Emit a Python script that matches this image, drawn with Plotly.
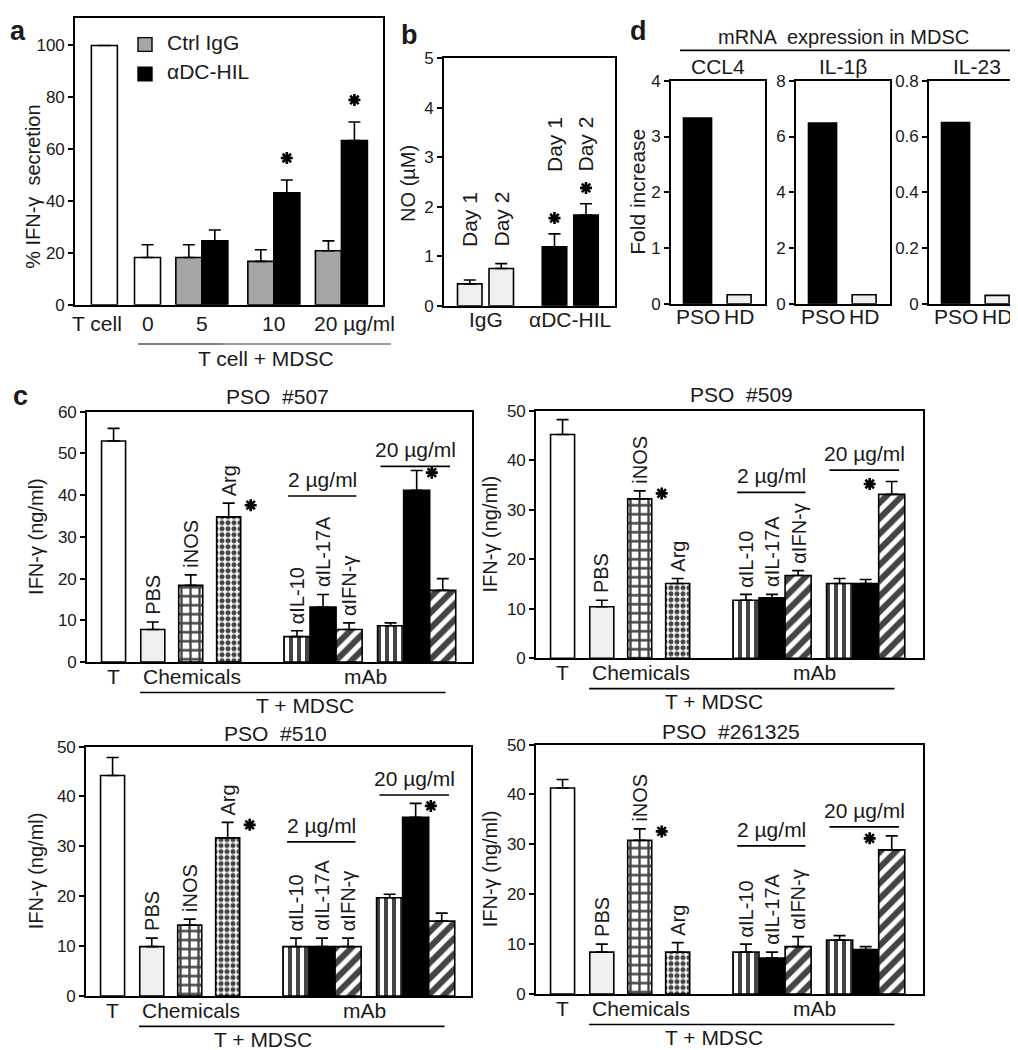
import plotly.graph_objects as go

W, H = 1018, 1050
FONT = "Arial, Liberation Sans, Helvetica, sans-serif"
TXT = "#1a1a1a"
LBL = 21
TCK = 17

# ---------------- data ----------------
# panel a : % IFN-gamma secretion
a_single_labels = ["T cell", "0"]
a_single_vals = [100, 18.2]
a_single_err = [0, 4.9]
a_dose_labels = ["5", "10", "20 µg/ml"]
a_ctrl_vals = [18.2, 16.7, 20.8]
a_ctrl_err = [4.9, 4.5, 3.8]
a_dchil_vals = [24.6, 43.2, 63.3]
a_dchil_err = [4.2, 4.9, 7.2]
a_dchil_sig = [False, True, True]

# panel b : NO (uM)
b_groups = ["IgG", "αDC-HIL"]
b_day1_vals = [0.44, 1.19]
b_day1_err = [0.08, 0.26]
b_day2_vals = [0.75, 1.83]
b_day2_err = [0.10, 0.23]
b_sig = [False, True]

# panel d : mRNA fold increase
d_genes = ["CCL4", "IL-1β", "IL-23"]
d_groups = ["PSO", "HD"]
d_pso = [3.33, 6.48, 0.65]
d_hd = [0.16, 0.32, 0.03]
d_ymax = [4, 8, 0.8]
d_dtick = [1, 2, 0.2]

# panel c : IFN-gamma (ng/ml)
c_patients = ["PSO  #507", "PSO  #509", "PSO  #510", "PSO  #261325"]
c_labels = ["T", "PBS", "iNOS", "Arg", "αIL-10", "αIL-17A", "αIFN-γ", "αIL-10", "αIL-17A", "αIFN-γ"]
c507_vals = [53.0, 7.8, 18.4, 34.8, 6.1, 13.2, 7.8, 8.7, 41.2, 17.2]
c507_err = [3.0, 1.8, 2.5, 3.3, 1.4, 3.0, 1.6, 0.7, 4.7, 2.8]
c509_vals = [45.2, 10.4, 32.2, 15.1, 11.7, 12.2, 16.7, 15.1, 15.1, 33.1]
c509_err = [3.0, 1.3, 1.6, 1.0, 1.2, 0.7, 1.0, 1.0, 0.8, 2.6]
c510_vals = [44.2, 9.9, 14.2, 31.7, 9.9, 9.9, 9.9, 19.7, 35.8, 15.0]
c510_err = [3.6, 1.7, 1.2, 3.1, 1.7, 1.7, 1.7, 0.7, 2.8, 1.6]
c261325_vals = [41.3, 8.4, 30.8, 8.4, 8.4, 7.2, 9.5, 10.8, 8.9, 28.9]
c261325_err = [1.7, 1.6, 2.3, 1.9, 1.6, 1.2, 2.0, 0.9, 0.6, 2.8]
c_sig = [[3, 8], [2, 9], [3, 8], [2, 9]]
c_ymax = [60, 50, 50, 50]

# ---------------- layout helpers ----------------
fig = go.Figure()
layout = dict(width=W, height=H, margin=dict(l=0, r=0, t=0, b=0),
              paper_bgcolor="white", plot_bgcolor="white", showlegend=False,
              barmode="overlay", font=dict(family=FONT, color=TXT))
annotations = []
shapes = []


def px_x(x):
    return x / W


def px_y(y):
    return 1 - y / H


def axes(n, x0, x1, y0, y1, xr, yr, dtick):
    s = "" if n == 1 else str(n)
    layout["xaxis" + s] = dict(domain=[px_x(x0), px_x(x1)], range=xr, anchor="y" + s,
                               showline=True, mirror=True, linecolor="black", linewidth=1.6,
                               ticks="", showticklabels=False, showgrid=False, zeroline=False)
    layout["yaxis" + s] = dict(domain=[px_y(y1), px_y(y0)], range=yr, anchor="x" + s,
                               showline=True, mirror=True, linecolor="black", linewidth=1.6,
                               ticks="outside", ticklen=5, tickwidth=1.6, tickcolor="black",
                               tick0=0, dtick=dtick, showgrid=False, zeroline=False,
                               tickfont=dict(size=TCK, color=TXT, family=FONT))
    return "x" + s, "y" + s


def ann(x, y, text, xref="paper", yref="paper", size=LBL, **kw):
    if xref == "paper":
        x = px_x(x)
    if yref == "paper":
        y = px_y(y)
    d = dict(x=x, y=y, xref=xref, yref=yref, text=text, showarrow=False,
             font=dict(size=size, color=TXT, family=FONT),
             xanchor="center", yanchor="middle")
    d.update(kw)
    annotations.append(d)


def hline(xa, x0, x1, y, yref="paper", color="black", width=1.6):
    if yref == "paper":
        y = px_y(y)
    shapes.append(dict(type="line", xref=xa, yref=yref, x0=x0, x1=x1, y0=y, y1=y,
                       line=dict(color=color, width=width)))


def bars(xa, ya, xs, ys, errs, widths, colors, pats=None, psize=None, psol=None, show_err=True):
    n = len(xs)
    pats = pats or [""] * n
    psize = psize or [8] * n
    psol = psol or [0.3] * n
    fig.add_trace(go.Bar(
        x=xs, y=ys, width=widths, xaxis=xa, yaxis=ya, hoverinfo="skip",
        marker=dict(color=colors, line=dict(color="black", width=1.6),
                    pattern=dict(shape=pats, fgcolor="black", bgcolor="white",
                                 fgopacity=1, size=psize, solidity=psol)),
        error_y=dict(type="data", symmetric=False, array=errs, arrayminus=[0] * n,
                     color="black", thickness=1.6, width=6, visible=show_err)))


def stars(xa, ya, xs, ys):
    fig.add_trace(go.Scatter(
        x=xs, y=ys, xaxis=xa, yaxis=ya, mode="markers", hoverinfo="skip",
        marker=dict(symbol="asterisk-open", size=10, color="black",
                    line=dict(width=2.6, color="black"))))


# ---------------- panel a ----------------
xa, ya = axes(1, 67, 375, 1, 293, [0, 11.85], [0, 110.6], 20)
a_single_x = [1.13, 2.79]
a_dose_x = [4.88, 7.65, 10.25]
bars(xa, ya, a_single_x, a_single_vals, a_single_err, [1.0] * 2, ["white"] * 2)
bars(xa, ya, [c - 0.5 for c in a_dose_x], a_ctrl_vals, a_ctrl_err, [1.0] * 3, ["#a6a6a6"] * 3)
bars(xa, ya, [c + 0.5 for c in a_dose_x], a_dchil_vals, a_dchil_err, [1.0] * 3, ["black"] * 3)
stars(xa, ya,
      [c + 0.5 for c, s in zip(a_dose_x, a_dchil_sig) if s],
      [v + e + 8.5 for v, e, s in zip(a_dchil_vals, a_dchil_err, a_dchil_sig) if s])
ann(a_single_x[0], 312, a_single_labels[0], xref=xa, xshift=-7)
ann(a_single_x[1], 312, a_single_labels[1], xref=xa)
for c, lab in zip(a_dose_x[:2], a_dose_labels[:2]):
    ann(c, 312, lab, xref=xa)
ann(a_dose_x[2] - 0.5, 312, a_dose_labels[2], xref=xa, xanchor="left", xshift=-16)
shapes.append(dict(type="line", xref="paper", yref="paper", x0=px_x(130), x1=px_x(215),
                   y0=px_y(333), y1=px_y(333), line=dict(color="#7f7f7f", width=2)))
shapes.append(dict(type="line", xref="paper", yref="paper", x0=px_x(215), x1=px_x(383),
                   y0=px_y(333), y1=px_y(333), line=dict(color="#9a9a9a", width=2)))
ann(258, 348, "T cell + MDSC")
ann(25, 173, "% IFN-γ  secretion", size=20, textangle=-90)
# legend
for yy, col, lab in [(28, "#a6a6a6", "Ctrl IgG"), (58, "black", "αDC-HIL")]:
    shapes.append(dict(type="rect", xref="paper", yref="paper", x0=px_x(130), x1=px_x(144),
                       y0=px_y(yy - 7), y1=px_y(yy + 7), fillcolor=col,
                       line=dict(color="black", width=1.4)))
    ann(157, yy - 2, lab, xanchor="left")
ann(10, 14, "<b>a</b>", size=27)

# ---------------- panel b ----------------
xb, yb = axes(2, 436, 607, 42, 294, [0, 6.84], [0, 5], 1)
b_x = [1.66, 5.05]
b_off = 0.63
b_cols = ["#efefef", "black"]
bars(xb, yb, [c - b_off for c in b_x], b_day1_vals, b_day1_err, [0.98] * 2, b_cols)
bars(xb, yb, [c + b_off for c in b_x], b_day2_vals, b_day2_err, [0.98] * 2, b_cols)
sx, sy = [], []
for i, c in enumerate(b_x):
    tops = [b_day1_vals[i] + b_day1_err[i], b_day2_vals[i] + b_day2_err[i]]
    base = max(tops) + (0.6 if b_sig[i] else 0.3)
    for xx, lab, tp in [(c - b_off, "Day 1", tops[0]), (c + b_off, "Day 2", tops[1])]:
        ann(xx, base, lab, xref=xb, yref=yb, textangle=-90, yanchor="bottom")
        if b_sig[i]:
            sx.append(xx)
            sy.append(tp + 0.32)
    ann(c, 308, b_groups[i], xref=xb)
stars(xb, yb, sx, sy)
ann(400, 170, "NO (µM)", size=20, textangle=-90)
ann(401, 18, "<b>b</b>", size=27)

# ---------------- panel d ----------------
d_dom = [(663, 757), (788, 882), (921, 1016)]
d_pos = [1.02, 2.62]
for i in range(3):
    x0, x1 = d_dom[i]
    xr = [0, (x1 - x0) / 26.0]
    xd, yd = axes(3 + i, x0, x1, 65, 292, xr, [0, d_ymax[i] * 1.0], d_dtick[i])
    bars(xd, yd, d_pos, [d_pso[i], d_hd[i]], [0, 0], [1.08, 0.92],
         ["black", "#efefef"], show_err=False)
    ann(d_pos[0], 305, d_groups[0], xref=xd)
    ann(d_pos[1], 305, d_groups[1], xref=xd)
    ann((x0 + x1) / 2, 50, d_genes[i])
ann(835, 20, "mRNA  expression in MDSC", size=20)
shapes.append(dict(type="line", xref="paper", yref="paper", x0=px_x(672), x1=px_x(1007),
                   y0=px_y(34), y1=px_y(34), line=dict(color="black", width=1.6)))
ann(630, 178, "Fold increase", size=21, textangle=-90)
ann(630, 14, "<b>d</b>", size=27)

# ---------------- panel c ----------------
c_x = [1.05, 2.6, 4.1, 5.6, 8.3, 9.33, 10.36, 12.0, 13.03, 14.06]
c_w = [0.95] * 4 + [1.03] * 6
c_cols = ["white", "#efefef", "white", "white", "white", "black", "white", "white", "black", "white"]
c_pat = ["", "", "+", ".", "|", "", "/", "|", "", "/"]
c_psize = [8, 8, 9, 6, 8, 8, 11, 8, 8, 11]
c_psol = [0.3, 0.3, 0.45, 0.55, 0.5, 0.3, 0.55, 0.5, 0.3, 0.55]
c_dom = [(79, 464, 402, 657), (528, 915, 401, 653), (78, 463, 743, 997), (528, 915, 741, 995)]
c_title_xy = [(269, 387), (733, 384), (267, 730), (723, 728)]
c_tm_x = [8.6, 7.05, 7.0, 7.05]
c_br2 = [39.8, 33.5, 30.9, 29.7]
c_br20 = [46.9, 38.0, 40.3, 33.5]
c_vals_all = [c507_vals, c509_vals, c510_vals, c261325_vals]
c_err_all = [c507_err, c509_err, c510_err, c261325_err]
for k in range(4):
    x0, x1, y0, y1 = c_dom[k]
    vals, errs = c_vals_all[k], c_err_all[k]
    xc, yc = axes(6 + k, x0, x1, y0, y1, [0, (x1 - x0) / 25.3], [0, c_ymax[k]], 10)
    bars(xc, yc, c_x, vals, errs, c_w, c_cols, c_pat, c_psize, c_psol)
    # rotated labels over chemicals and 2 ug/ml antibodies
    for i in range(1, 7):
        ann(c_x[i], vals[i] + errs[i], c_labels[i], xref=xc, yref=yc,
            textangle=-90, yanchor="bottom", yshift=5, size=20)
    # significance
    sx, sy = [], []
    for i in c_sig[k]:
        off = 0.87 if i <= 3 else (0.6 if c_cols[i] == "black" else -0.87)
        sx.append(c_x[i] + off)
        sy.append(vals[i] + errs[i] - 0.5)
    stars(xc, yc, sx, sy)
    # dose brackets
    hline(xc, 7.95, 10.65, c_br2[k], yref=yc)
    hline(xc, 11.6, 14.35, c_br20[k], yref=yc)
    ann(9.3, c_br2[k], "2 µg/ml", xref=xc, yref=yc, yanchor="bottom", yshift=3)
    ann(12.97, c_br20[k], "20 µg/ml", xref=xc, yref=yc, yanchor="bottom", yshift=3)
    # x labels
    ann(c_x[0], y1 + 15, c_labels[0], xref=xc)
    ann(4.15, y1 + 15, "Chemicals", xref=xc)
    ann(11.0, y1 + 15, "mAb", xref=xc)
    hline(xc, 2.1, 14.17, y1 + 31)
    ann(c_tm_x[k], y1 + 44, "T + MDSC", xref=xc)
    ann(c_title_xy[k][0], c_title_xy[k][1], c_patients[k])
    ann(28 if x0 < 300 else 482, (y0 + y1) / 2, "IFN-γ (ng/ml)", size=20, textangle=-90)
ann(12, 386, "<b>c</b>", size=27)

layout["annotations"] = annotations
layout["shapes"] = shapes
fig.update_layout(**layout)
fig.write_html("out.html")
